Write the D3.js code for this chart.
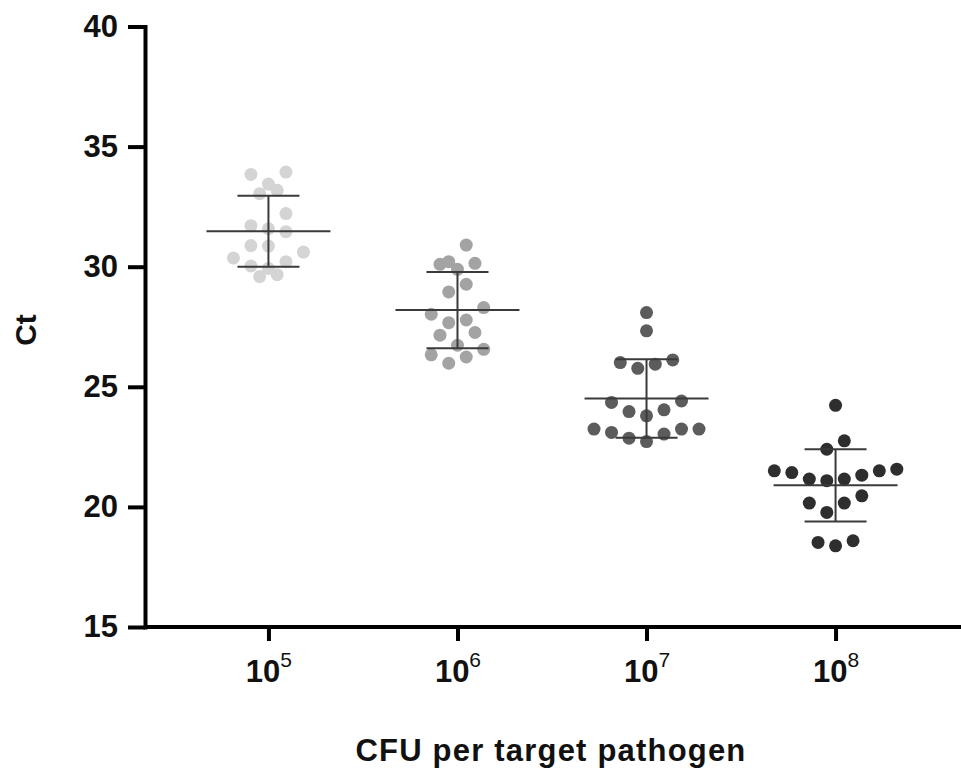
<!DOCTYPE html>
<html>
<head>
<meta charset="utf-8">
<script src="https://cdn.jsdelivr.net/npm/d3@7"></script>
<style>
  body { margin: 0; background: #fff; }
  text { font-family: "Liberation Sans", Arial, sans-serif; fill: #111; }
</style>
</head>
<body>
<div id="chart"></div>
<script>
// groups on the x axis, as powers of ten
var categories = ['1e5', '1e6', '1e7', '1e8']
var exponents = ['5', '6', '7', '8']
var colors = ['#d4d4d4', '#a3a3a3', '#5c5c5c', '#2e2e2e']

// Ct values, one list per group
var ct1e5 = [33.84, 33.94, 33.44, 33.18, 33.04, 32.21, 31.71, 31.46, 31.58, 30.88, 30.61, 30.86, 30.36, 30.21, 29.93, 30.03, 29.59, 29.67]
var ct1e6 = [30.90, 30.14, 29.89, 30.10, 30.21, 29.27, 28.95, 28.30, 28.02, 27.78, 27.67, 27.26, 27.15, 26.73, 26.33, 26.56, 25.98, 26.24]
var ct1e7 = [28.09, 27.33, 26.01, 25.77, 25.94, 26.12, 24.35, 24.41, 23.97, 23.79, 24.04, 23.24, 23.24, 23.03, 22.72, 22.86, 23.10, 23.24]
var ct1e8 = [24.23, 22.75, 22.40, 21.50, 21.43, 21.16, 21.09, 21.16, 21.32, 21.50, 21.57, 20.46, 20.16, 20.16, 19.77, 18.59, 18.38, 18.52]

var yTicks = [15, 20, 25, 30, 35, 40]

var groups = [ct1e5, ct1e6, ct1e7, ct1e8].map(function(vals, i){
  return {key: categories[i], exp: exponents[i], color: colors[i], values: vals}
})

var width = 961, height = 772
var svg = d3.select('#chart').append('svg')
  .attr('width', width).attr('height', height)

var x = d3.scalePoint().domain(categories).range([145, 959]).padding(0.653)
var y = d3.scaleLinear().domain([15, 40]).range([627, 26.5])

var r = 6.5

// prism-like scatter: group values into rows, then spread each row evenly
// around the centre, lowest value in the middle
function swarm(values){
  var sorted = values.slice().sort(function(a, b){ return b - a })
  var rows = [], row = null
  sorted.forEach(function(v){
    if (!row || row[0] - v >= 0.7){ row = [v]; rows.push(row) }
    else row.push(v)
  })
  var out = []
  var step = 17.5
  rows.forEach(function(rw){
    var n = rw.length
    var slots = d3.range(n).map(function(i){ return (i - (n - 1) / 2) * step })
    slots.sort(function(a, b){ return Math.abs(a) - Math.abs(b) || a - b })
    rw.slice().sort(function(a, b){ return a - b }).forEach(function(v, i){
      out.push({v: v, dx: slots[i], py: y(v)})
    })
  })
  return out
}

var g = svg.selectAll('g.group').data(groups).enter().append('g')
  .attr('class', 'group')
  .attr('transform', function(d){ return 'translate(' + x(d.key) + ',0)' })

g.each(function(d){
  var sel = d3.select(this)
  sel.selectAll('circle').data(swarm(d.values)).enter().append('circle')
    .attr('cx', function(p){ return p.dx })
    .attr('cy', function(p){ return p.py })
    .attr('r', r)
    .attr('fill', d.color)

  var m = d3.mean(d.values), s = d3.deviation(d.values)
  var line = function(x1, x2, v){
    sel.append('line')
      .attr('x1', x1).attr('x2', x2).attr('y1', y(v)).attr('y2', y(v))
      .attr('stroke', '#3a3a3a').attr('stroke-width', 2)
  }
  line(-62, 62, m)
  line(-31, 31, m + s)
  line(-31, 31, m - s)
  sel.append('line')
    .attr('x1', 0).attr('x2', 0).attr('y1', y(m + s)).attr('y2', y(m - s))
    .attr('stroke', '#3a3a3a').attr('stroke-width', 2)
})

// axes
var yAxis = svg.append('g').attr('transform', 'translate(145,0)')
  .call(d3.axisLeft(y).tickValues(yTicks).tickSize(17).tickSizeOuter(0).tickPadding(10))
yAxis.select('.domain').attr('stroke', '#000').attr('stroke-width', 4).attr('stroke-linecap', 'square')
yAxis.selectAll('.tick line').attr('stroke', '#000').attr('stroke-width', 4)
yAxis.selectAll('.tick text')
  .attr('font-size', 31).attr('font-weight', 'bold')
  .attr('font-family', '"Liberation Sans", Arial, sans-serif').attr('fill', '#111')

var xAxis = svg.append('g').attr('transform', 'translate(0,627)')
  .call(d3.axisBottom(x).tickSize(14).tickSizeOuter(0).tickFormat(''))
xAxis.select('.domain').attr('stroke', '#000').attr('stroke-width', 4)
  .attr('d', 'M145,0H961')
xAxis.selectAll('.tick line').attr('stroke', '#000').attr('stroke-width', 4)
xAxis.selectAll('.tick text').remove()

var lab = xAxis.selectAll('.tick').append('text')
  .attr('y', 55).attr('text-anchor', 'middle')
  .attr('font-size', 31).attr('font-weight', 'bold')
  .attr('font-family', '"Liberation Sans", Arial, sans-serif')
lab.append('tspan').text('10')
lab.append('tspan')
  .attr('dy', -15).attr('font-size', 21).attr('font-weight', 'normal')
  .text(function(d, i){ return exponents[i] })

svg.append('text')
  .attr('x', 551).attr('y', 761).attr('text-anchor', 'middle')
  .attr('font-size', 31).attr('font-weight', 'bold').attr('letter-spacing', 1.2)
  .text('CFU per target pathogen')

svg.append('text')
  .attr('transform', 'translate(36,330) rotate(-90)')
  .attr('text-anchor', 'middle')
  .attr('font-size', 30).attr('font-weight', 'bold')
  .text('Ct')
</script>
</body>
</html>
